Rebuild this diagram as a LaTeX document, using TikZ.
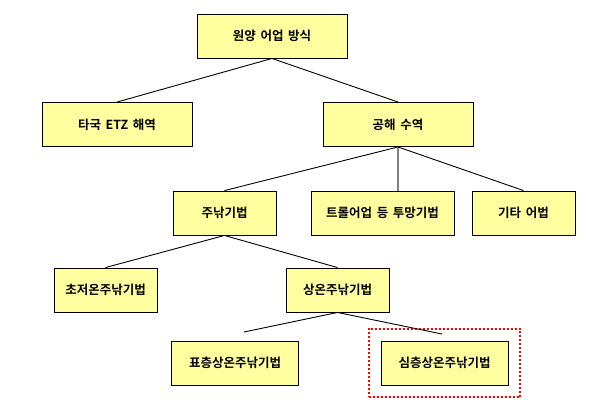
\documentclass[tikz,border=0pt]{standalone}
\usepackage{fontspec}
\setmainfont{Noto Sans CJK KR}[BoldFont={Noto Sans CJK KR Bold},WordSpace=1.6]
\usepackage{tikz}
\usetikzlibrary{shapes,positioning,calc,fit}
\definecolor{paleyellow}{RGB}{255,255,160}
\definecolor{linegray}{RGB}{128,128,128}

\begin{document}
\begin{tikzpicture}
  [x=1pt,y=-1pt,
   boxN/.style={draw,fill=paleyellow,minimum height=44pt,inner sep=0pt,
     font=\fontsize{12.5}{14}\selectfont\bfseries},
   wideN/.style={boxN,minimum width=150pt},
   narrowN/.style={boxN,minimum width=103pt},
   midN/.style={boxN,minimum width=127pt},
   markN/.style={draw=red,dotted,line width=2pt,inner sep=12pt},
   line width=0.9pt]

  \useasboundingbox (0,0) rectangle (589,410);

  \node[wideN] (root) at (272,36) {원양 어업 방식};

  \node[wideN] (eez) at (117,124.5) {타국 ETZ 해역};
  \node[wideN] (high) at (398,124.5) {공해 수역};

  \node[narrowN] (long) at (224.5,213) {주낚기법};
  \node[boxN,minimum width=143pt] (trawl) at (382.5,213) {트롤어업 등 투망기법};
  \node[narrowN] (etc) at (523.5,213) {기타 어법};

  \node[narrowN] (ultra) at (105.5,290) {초저온주낚기법};
  \node[narrowN] (norm) at (337.5,290) {상온주낚기법};

  \node[midN] (surf) at (235,363) {표층상온주낚기법};
  \node[midN] (deep) at (444.5,363) {심층상온주낚기법};

  \node[markN,fit=(deep)] (mark) {};

  \coordinate (surf_top) at (244,332);
  \coordinate (deep_top) at (442,334);

  \draw [] (root.south) -- (eez.north);
  \draw [] (root.south) -- (high.north);

  \draw [] (high.south) -- (long.north);
  \draw [linegray,line width=1.5pt] (high.south) -- (high.south |- trawl.north);
  \draw [] (high.south) -- (etc.north);

  \draw [] (long.south) -- (ultra.north);
  \draw [] (long.south) -- (norm.north);

  \draw [] (norm.south) -- (surf_top);
  \draw [] (norm.south) -- (deep_top);
\end{tikzpicture}
\end{document}
